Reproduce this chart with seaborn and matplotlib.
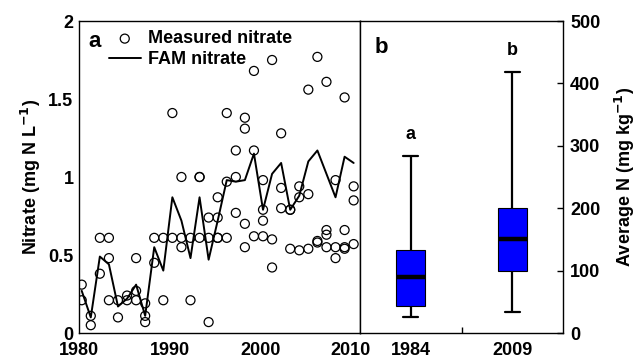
import numpy as np
import pandas as pd
import seaborn as sns
import matplotlib
matplotlib.use("Agg")
import matplotlib.pyplot as plt
from matplotlib.ticker import FuncFormatter

# ---- data ----
years = list(range(1980, 2011))
fam_nitrate = [0.27, 0.10, 0.49, 0.44, 0.17, 0.22, 0.31, 0.11, 0.55, 0.40,
               0.87, 0.72, 0.48, 0.87, 0.47, 0.72, 0.98, 0.97, 0.98, 1.15,
               0.79, 1.02, 1.09, 0.79, 0.88, 1.10, 1.17, 1.02, 0.87, 1.13, 1.09]
measured_nitrate = [
    [0.31, 0.21], [0.11, 0.05], [0.61, 0.38], [0.61, 0.48, 0.21],
    [0.21, 0.10], [0.24, 0.21], [0.48, 0.27, 0.21], [0.19, 0.11, 0.07],
    [0.61, 0.45], [0.61, 0.21], [1.41, 0.61], [1.00, 0.61, 0.55],
    [0.61, 0.21], [1.00, 1.00, 0.61], [0.74, 0.61, 0.07], [0.87, 0.74, 0.61, 0.61],
    [1.41, 0.97, 0.61], [1.17, 1.00, 0.77], [1.38, 1.31, 0.70, 0.55], [1.68, 1.17, 0.62],
    [0.98, 0.79, 0.72, 0.62], [1.75, 0.60, 0.42], [1.28, 0.93, 0.80], [0.79, 0.79, 0.54],
    [0.94, 0.87, 0.53], [1.56, 0.89, 0.54], [1.77, 0.59, 0.58], [1.61, 0.66, 0.63, 0.55],
    [0.98, 0.55, 0.48], [1.51, 0.66, 0.55, 0.54], [0.94, 0.85, 0.57],
]
box_years = ["1984", "2009"]
# five-number summaries: min, Q1, median, Q3, max (mg kg-1)
box_1984 = [25, 43, 89, 133, 283]
box_2009 = [33, 99, 150, 200, 418]
box_letters = ["a", "b"]

sample_offset = 0.3  # samples plotted near mid-year

fam = pd.DataFrame({"t": np.array(years) + sample_offset, "nitrate": fam_nitrate})
meas = pd.DataFrame([(y + sample_offset, v) for y, vals in zip(years, measured_nitrate) for v in vals],
                    columns=["t", "nitrate"])
boxdf = pd.DataFrame({"year": np.repeat(box_years, 5), "N": box_1984 + box_2009})

sns.set_style("white")
plt.rcParams["font.family"] = ["Liberation Sans", "DejaVu Sans"]
plt.rcParams["font.weight"] = "bold"
plt.rcParams["axes.labelweight"] = "bold"
plt.rcParams["mathtext.default"] = "bf"
plt.rcParams["axes.edgecolor"] = "black"
plt.rcParams["axes.linewidth"] = 1.0
plt.rcParams["text.color"] = "black"
plt.rcParams["axes.labelcolor"] = "black"
plt.rcParams["xtick.color"] = "black"
plt.rcParams["ytick.color"] = "black"

fs = 13
fig = plt.figure(figsize=(6.39, 3.6), dpi=100)
ax1 = fig.add_axes([79/639, 27/360, 281/639, 312/360])
ax2 = fig.add_axes([360/639, 27/360, 203/639, 312/360])

# ---- panel a ----
sns.scatterplot(data=meas, x="t", y="nitrate", ax=ax1, marker="o", s=42,
                facecolor="none", edgecolor="black", linewidth=0.9,
                label="Measured nitrate", zorder=3)
sns.lineplot(data=fam, x="t", y="nitrate", ax=ax1, color="black", lw=1.4,
             label="FAM nitrate", zorder=2)
ax1.set_xlim(1980, 2011)
ax1.set_ylim(0, 2)
ax1.set_xticks([1980, 1990, 2000, 2010])
ax1.set_yticks([0, 0.5, 1, 1.5, 2])
ax1.yaxis.set_major_formatter(FuncFormatter(lambda v, _: f"{v:g}"))
ax1.tick_params(axis="y", direction="in", length=4, width=1, labelsize=fs, pad=4,
                right=False, colors="black")
ax1.tick_params(axis="x", direction="in", length=4, width=1, labelsize=fs, pad=6.5,
                top=False, colors="black")
for lab in ax1.get_xticklabels() + ax1.get_yticklabels():
    lab.set_fontweight("bold")
ax1.set_xlabel("")
ax1.set_ylabel("Nitrate (mg N L$^{-1}$)", fontsize=fs, fontweight="bold", labelpad=4)
ax1.text(0.035, 0.917, "a", transform=ax1.transAxes, fontsize=16, fontweight="bold", va="baseline")
leg = ax1.legend(loc="upper left", bbox_to_anchor=(0.105, 0.97), frameon=False, fontsize=fs,
                 borderpad=0, borderaxespad=0, handlelength=1.8, handletextpad=0.4,
                 labelspacing=0.2)
for t in leg.get_texts():
    t.set_fontweight("bold")
    t.set_color("black")

# ---- panel b ----
sns.boxplot(data=boxdf, x="year", y="N", ax=ax2, color="#0000FF", saturation=1,
            width=0.29, whis=(0, 100), linecolor="black", linewidth=1.6,
            boxprops=dict(linewidth=0.8),
            medianprops=dict(linewidth=3.2, color="black"))
ax2.set_xlim(-0.5, 1.5)
ax2.set_ylim(0, 500)
ax2.set_yticks(range(0, 501, 100))
ax2.yaxis.tick_right()
ax2.yaxis.set_label_position("right")
ax2.set_xticks([0.5], minor=True)
ax2.tick_params(axis="x", which="major", length=0, labelsize=fs, pad=6.5, colors="black")
ax2.tick_params(axis="x", which="minor", direction="in", length=4, width=1, bottom=True)
ax2.tick_params(axis="y", direction="in", length=4, width=1, labelsize=fs, colors="black",
                left=False, right=True, pad=5)
for lab in ax2.get_xticklabels() + ax2.get_yticklabels():
    lab.set_fontweight("bold")
ax2.set_xlabel("")
ax2.set_ylabel("Average N (mg kg$^{-1}$)", fontsize=fs, fontweight="bold", labelpad=9)
ax2.text(0.07, 0.897, "b", transform=ax2.transAxes, fontsize=16, fontweight="bold", va="baseline")
for i, (vals, let) in enumerate(zip([box_1984, box_2009], box_letters)):
    ax2.text(i, max(vals) + 28, let, ha="center", va="baseline", fontsize=fs, fontweight="bold")

for ax in (ax1, ax2):
    for sp in ax.spines.values():
        sp.set_color("black")
        sp.set_linewidth(1.0)

fig.savefig("out.png", dpi=100)
